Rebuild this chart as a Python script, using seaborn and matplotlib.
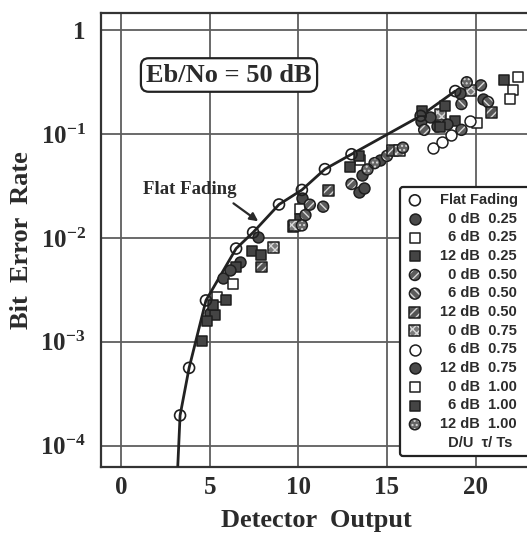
import matplotlib
matplotlib.use("Agg")
import matplotlib.pyplot as plt
import seaborn as sns
from matplotlib.legend_handler import HandlerTuple
from matplotlib.lines import Line2D

# ---------------- data ----------------
x_ticks = [0, 5, 10, 15, 20]
x_tick_labels = ["0", "5", "10", "15", "20"]
y_ticks = [1e-4, 1e-3, 1e-2, 1e-1, 1]
y_tick_labels = [r"$\mathbf{10^{-4}}$", r"$\mathbf{10^{-3}}$", r"$\mathbf{10^{-2}}$",
                 r"$\mathbf{10^{-1}}$", "1"]

# flat fading measurements and the theoretical curve through them
flat_x = [3.33, 3.84, 4.79, 6.49, 7.45, 8.91, 10.2, 11.5, 13.0, 16.9, 18.85]
flat_ber = [1.95e-4, 5.6e-4, 2.5e-3, 7.9e-3, 0.0113, 0.021, 0.029, 0.046, 0.064, 0.15, 0.26]
curve_x = [3.2, 3.33, 3.84, 4.79, 6.49, 7.45, 8.91, 10.2, 11.5, 13.0, 16.9, 18.85]
curve_ber = [6.3e-5, 1.95e-4, 5.6e-4, 2.5e-3, 7.9e-3, 0.0113, 0.021, 0.029, 0.046, 0.064, 0.15, 0.26]

du_labels = ["0 dB", "6 dB", "12 dB"] * 4
tau_labels = ["0.25"] * 3 + ["0.50"] * 3 + ["0.75"] * 3 + ["1.00"] * 3

x_0db_025 = [5.0, 6.7, 10.2, 13.6, 14.6, 16.9, 17.8, 20.4]
ber_0db_025 = [0.00191, 0.00589, 0.0245, 0.0407, 0.0562, 0.135, 0.12, 0.219]
x_6db_025 = [5.4, 10.1, 13.5, 20.1, 22.1]
ber_6db_025 = [0.00269, 0.0191, 0.0562, 0.129, 0.269]
x_12db_025 = [4.55, 5.3, 6.5, 7.4, 10.1, 13.4, 17.0, 18.85]
ber_12db_025 = [0.00102, 0.00182, 0.00525, 0.00741, 0.0151, 0.0617, 0.166, 0.135]
x_0db_050 = [10.65, 13.0, 17.1, 19.2, 20.3]
ber_0db_050 = [0.0209, 0.0331, 0.110, 0.110, 0.295]
x_6db_050 = [10.4, 11.4, 15.0, 19.2, 20.7]
ber_6db_050 = [0.0166, 0.0200, 0.0617, 0.195, 0.204]
x_12db_050 = [7.9, 9.7, 11.7, 15.3, 20.9]
ber_12db_050 = [0.00525, 0.0129, 0.0288, 0.0692, 0.162]
x_0db_075 = [8.6, 9.8, 15.7, 18.0, 19.7]
ber_0db_075 = [0.00813, 0.0132, 0.0692, 0.155, 0.263]
x_6db_075 = [17.6, 18.1, 18.6, 19.7]
ber_6db_075 = [0.0741, 0.0832, 0.0977, 0.135]
x_12db_075 = [5.75, 6.15, 7.7, 13.4, 13.7, 17.4, 18.4, 19.1]
ber_12db_075 = [0.00407, 0.0049, 0.0102, 0.0275, 0.0302, 0.145, 0.125, 0.251]
x_0db_100 = [6.3, 21.95, 22.4]
ber_0db_100 = [0.00363, 0.219, 0.355]
x_6db_100 = [4.83, 5.2, 5.9, 7.9, 12.9, 18.0, 18.3, 21.6]
ber_6db_100 = [0.00158, 0.00224, 0.00251, 0.00692, 0.0479, 0.117, 0.186, 0.331]
x_12db_100 = [10.2, 13.9, 14.3, 15.9, 19.5]
ber_12db_100 = [0.0132, 0.0457, 0.0525, 0.0741, 0.316]

series_x = [x_0db_025, x_6db_025, x_12db_025, x_0db_050, x_6db_050, x_12db_050,
            x_0db_075, x_6db_075, x_12db_075, x_0db_100, x_6db_100, x_12db_100]
series_ber = [ber_0db_025, ber_6db_025, ber_12db_025, ber_0db_050, ber_6db_050, ber_12db_050,
              ber_0db_075, ber_6db_075, ber_12db_075, ber_0db_100, ber_6db_100, ber_12db_100]

# marker, face colour, hatch for each series
styles = [
    ("o", "#4a4a4a", None),
    ("s", "white", None),
    ("s", "#444444", None),
    ("o", "#5c5c5c", "////"),
    ("o", "#5c5c5c", "\\\\\\\\"),
    ("s", "#555555", "////"),
    ("s", "#7a7a7a", "xxxx"),
    ("o", "white", None),
    ("o", "#4a4a4a", None),
    ("s", "white", None),
    ("s", "#444444", None),
    ("o", "#666666", "...."),
]

# ---------------- styling ----------------
sns.set_theme(style="white")
ink = "#2b2b2b"
plt.rcParams["font.family"] = ["Liberation Serif", "DejaVu Serif"]
plt.rcParams["mathtext.fontset"] = "custom"
plt.rcParams["mathtext.rm"] = "Liberation Serif"
plt.rcParams["mathtext.bf"] = "Liberation Serif:bold"
plt.rcParams["hatch.linewidth"] = 1.0

W, H = 527, 538
fig = plt.figure(figsize=(W / 100, H / 100), dpi=100)
fig.patch.set_facecolor("white")
ax = fig.add_axes([101 / W, 1 - 466.7 / H, 431 / W, 454 / H])
ax.set_yscale("log")
ax.set_xlim(-1.13, 23.18)
ax.set_ylim(6.25e-5, 1.479)

ax.set_xticks(x_ticks)
ax.set_xticklabels(x_tick_labels)
ax.set_yticks(y_ticks)
ax.set_yticklabels(y_tick_labels)
ax.minorticks_off()
ax.tick_params(axis="both", length=0, labelsize=18, colors=ink)
ax.tick_params(axis="y", pad=11)
ax.tick_params(axis="x", pad=7)
for lab in ax.get_xticklabels() + ax.get_yticklabels():
    lab.set_fontweight("bold")

ax.grid(True, color="#5e5e5e", linewidth=1.3)
for side in ["left", "bottom", "top"]:
    ax.spines[side].set_color("#333333")
    ax.spines[side].set_linewidth(1.6)
ax.spines["right"].set_visible(False)

ax.set_xlabel("Detector  Output", fontsize=19, fontweight="bold", color=ink, labelpad=7)
ax.set_ylabel("Bit  Error  Rate", fontsize=19, fontweight="bold", color=ink, labelpad=5)

# theoretical flat-fading curve
sns.lineplot(x=curve_x, y=curve_ber, ax=ax, color="#222222", linewidth=2.0,
             estimator=None, sort=False, zorder=3)

msize = 62
handles = []

for xs, ys, (mk, fc, hatch) in zip(series_x, series_ber, styles):
    if hatch is None:
        sns.scatterplot(x=xs, y=ys, ax=ax, marker=mk, s=msize, color=fc,
                        edgecolor="#1e1e1e", linewidth=1.1, zorder=4)
        handles.append(ax.collections[-1])
    else:
        sns.scatterplot(x=xs, y=ys, ax=ax, marker=mk, s=msize, color=fc,
                        edgecolor="#d8d8d8", linewidth=0, hatch=hatch, zorder=4)
        fill = ax.collections[-1]
        sns.scatterplot(x=xs, y=ys, ax=ax, marker=mk, s=msize, color="none",
                        edgecolor="#1e1e1e", linewidth=1.1, zorder=4)
        handles.append((fill, ax.collections[-1]))

sns.scatterplot(x=flat_x, y=flat_ber, ax=ax, marker="o", s=msize, color="none",
                edgecolor="#1e1e1e", linewidth=1.2, zorder=5)
h_flat = ax.collections[-1]

# text box
fig.text(229 / W, 1 - 75 / H, "Eb/No = 50 dB", ha="center", va="center",
         fontsize=19, fontweight="bold", color=ink,
         bbox=dict(boxstyle="round,pad=0.2,rounding_size=0.3", facecolor="white",
                   edgecolor="#222222", linewidth=1.6))

ax.annotate("Flat Fading", xy=(7.8, 0.0142), xytext=(3.85, 0.029),
            ha="center", va="center", fontsize=13.5, fontweight="bold", color=ink,
            arrowprops=dict(arrowstyle="-|>", color="#2a2a2a", lw=1.6,
                            relpos=(0.9, 0.0), mutation_scale=12,
                            shrinkA=2, shrinkB=1))

# legend (the frame runs on past the right edge of the figure)
fs = "\u2007"
labels = ["Flat Fading" + fs] + [
    fs * (5 - len(d)) + d + "  " + t + fs for d, t in zip(du_labels, tau_labels)
]
blank = Line2D([], [], linestyle="none", marker=None)
all_handles = [h_flat] + handles + [blank]
all_labels = labels + [fs + "D/U  \u03c4/ Ts"]
leg = ax.legend(all_handles, all_labels, loc="upper left",
                bbox_to_anchor=(393 / W, 1 - 180 / H), bbox_transform=fig.transFigure,
                handler_map={tuple: HandlerTuple(ndivide=1, pad=0)},
                prop=dict(family=["Liberation Sans", "DejaVu Sans"], weight="bold", size=10.5),
                labelcolor=ink, scatterpoints=1, handlelength=1.2, handletextpad=1.1,
                borderpad=0.4, labelspacing=0.32, frameon=True, fancybox=True,
                framealpha=1, edgecolor="#222222")
leg.get_frame().set_linewidth(1.6)
leg.set_zorder(10)

fig.savefig("out.png", dpi=100)
